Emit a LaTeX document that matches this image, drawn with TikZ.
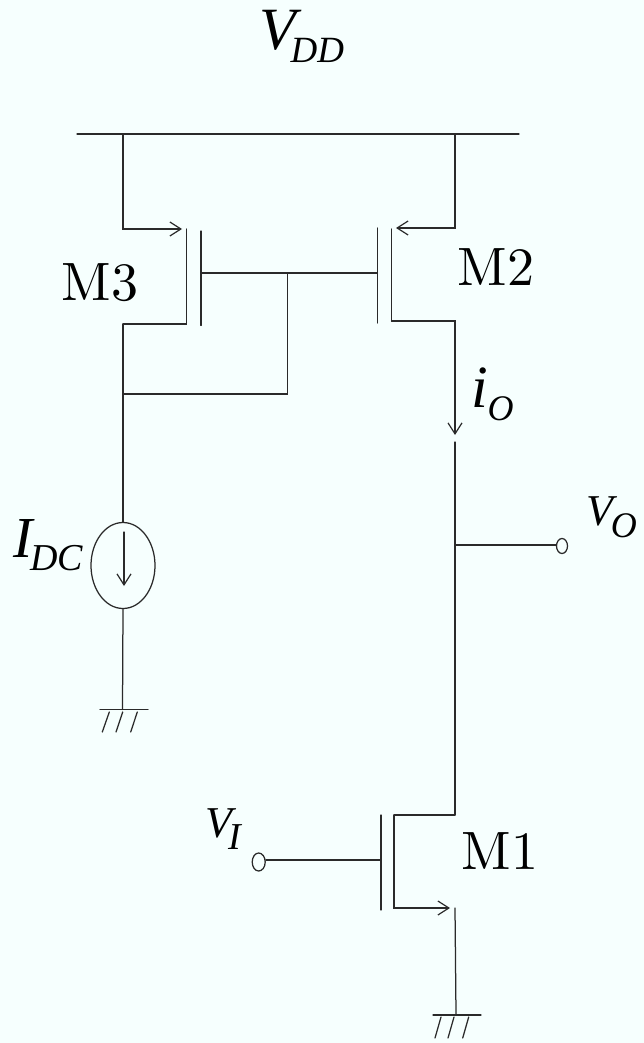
\documentclass[tikz,border=0pt]{standalone}
\usepackage{fontspec}
\newfontfamily\tms{Liberation Serif}
\usetikzlibrary{arrows.meta,shapes.geometric}
\definecolor{bgc}{HTML}{F6FFFE}
\definecolor{wirec}{HTML}{2A2A2A}
% #1 main size, #2 letter, #3 kern, #4 subscript text, #5 subscript size, #6 drop
\newcommand\sublabel[6]{{\tms\itshape\fontsize{#1}{#1}\selectfont #2\kern#3\raisebox{#6}{\fontsize{#5}{#5}\selectfont #4}}}
\tikzset{
  wire/.style={draw=wirec,line width=1.25pt,line cap=round},
  arrowwire/.style={wire,-{Straight Barb[length=11pt,width=14pt,line width=1.2pt]}},
  lab/.style={inner sep=0pt,outer sep=0pt,text=black,anchor=base west},
  mlab/.style={inner sep=0pt,outer sep=0pt,text=black,scale=5.4},
  port/.style={draw=wirec,line width=1.25pt,ellipse,inner sep=0pt},
}
\begin{document}
\begin{tikzpicture}[x=1pt,y=-1pt]
\useasboundingbox (0,0) rectangle (644,1043);
\fill[bgc] (0,0) rectangle (644,1043);
% rail
\coordinate (railL) at (77,134); \coordinate (railR) at (519,134);
\coordinate (railA) at (123,134); \coordinate (railB) at (455,134);
\draw[wire] (railL) -- (railR);
% M3
\coordinate (m3s) at (123,229); \coordinate (m3st) at (182,229);
\coordinate (m3ct) at (186.5,229); \coordinate (m3cb) at (186.5,324);
\coordinate (m3gt) at (201,231); \coordinate (m3gb) at (201,325.5);
\coordinate (m3g) at (201,273);
\coordinate (m3d) at (123,324);
\draw[arrowwire] (railA) -- (m3s) -- (m3st);
\draw[wire] (m3ct) -- (m3cb) -- (m3d);
\draw[wire] (m3gt) -- (m3gb);
% M2
\coordinate (m2s) at (455,228); \coordinate (m2st) at (396,228);
\coordinate (m2ct) at (391.5,229); \coordinate (m2cb) at (391.5,321);
\coordinate (m2gt) at (377.5,228); \coordinate (m2gb) at (377.5,323);
\coordinate (m2g) at (377.5,273);
\coordinate (m2d) at (455,321); \coordinate (ioTip) at (455,435);
\draw[arrowwire] (railB) -- (m2s) -- (m2st);
\draw[wire] (m2ct) -- (m2cb);
\draw[wire] (m2gt) -- (m2gb);
\draw[arrowwire] (m2cb) -- (m2d) -- (ioTip);
% gate tie
\coordinate (tie) at (287.5,273); \coordinate (tieB) at (287.5,394); \coordinate (tieL) at (123,394);
\draw[wire] (m3g) -- (m2g);
\draw[wire] (tie) -- (tieB) -- (tieL);
% source
\node[port,minimum width=64pt,minimum height=86pt] (idc) at (123,565.5) {};
\draw[wire] (m3d) -- (idc.north);
\coordinate (idcT) at (124,532); \coordinate (idcB) at (124,586);
\draw[arrowwire] (idcT) -- (idcB);
\coordinate (g1) at (122.5,709.5);
\draw[wire] (idc.south) -- (g1);
\coordinate (g1L) at (100,709.5); \coordinate (g1R) at (148,709.5);
\draw[wire] (g1L) -- (g1R);
\draw[wire] (109.3,712) -- (102.3,732);
\draw[wire] (122.7,712) -- (116,732);
\draw[wire] (137.3,712) -- (130.7,732);
% output line
\coordinate (vTop) at (455,442); \coordinate (m1d) at (455,815); \coordinate (voJ) at (455,545);
\node[port,minimum width=11pt,minimum height=15pt] (vo) at (562,546) {};
\draw[wire] (vTop) -- (m1d);
\draw[wire] (voJ) -- (vo.west |- voJ);
% M1
\coordinate (m1ct) at (394,815); \coordinate (m1cb) at (394,908); \coordinate (m1st) at (450,908);
\coordinate (m1gt) at (381,815); \coordinate (m1gb) at (381,910); \coordinate (m1g) at (381,860);
\node[port,minimum width=13pt,minimum height=18pt] (vi) at (258.7,862) {};
\draw[wire] (m1d) -- (m1ct);
\draw[arrowwire] (m1ct) -- (m1cb) -- (m1st);
\draw[wire] (m1gt) -- (m1gb);
\draw[wire] (vi.east |- m1g) -- (m1g);
\coordinate (sT) at (455,908); \coordinate (sB) at (456,1014);
\draw[wire] (sT) -- (sB);
\coordinate (g2L) at (433,1015); \coordinate (g2R) at (481,1015);
\draw[wire] (g2L) -- (g2R);
\draw[wire] (441,1017) -- (435,1038);
\draw[wire] (454,1017) -- (448,1038);
\draw[wire] (468.7,1017) -- (462.7,1038);
% labels
\node[mlab] (m3) at (100,283) {M3};
\node[mlab] (m2) at (496,267) {M2};
\node[mlab] (m1) at (500,851) {M1};
\node[lab] (vdd) at (259,50) {\sublabel{60}{V}{-5pt}{DD}{37}{-13pt}};
\node[lab] (io) at (471,407) {\sublabel{60}{i}{0pt}{O}{36}{-13pt}};
\node[lab] (idclab) at (13,557) {\sublabel{58}{I}{-2pt}{DC}{38}{-13pt}};
\node[lab] (vilab) at (205,837) {\sublabel{44}{V}{-3pt}{I}{38}{-12pt}};
\node[lab] (volab) at (586,525) {\sublabel{44}{V}{-2pt}{O}{36}{-12pt}};
\end{tikzpicture}
\end{document}
